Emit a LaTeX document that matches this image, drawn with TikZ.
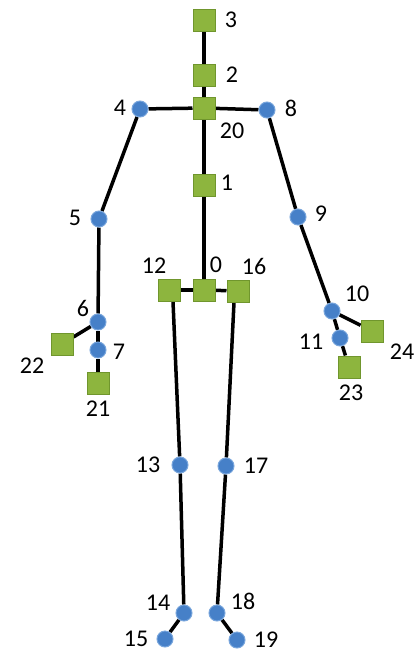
\documentclass[tikz,border=0pt]{standalone}
\usepackage{fontspec}
\setmainfont{Carlito}
\usetikzlibrary{backgrounds}
\definecolor{jgreen}{RGB}{141,181,62}
\definecolor{jgreenE}{RGB}{112,150,45}
\definecolor{jblue}{RGB}{70,128,200}
\definecolor{jblueE}{RGB}{120,165,220}
\begin{document}
\begin{tikzpicture}[x=1pt,y=-1pt,
  sq/.style={rectangle,draw=jgreenE,fill=jgreen,line width=1pt,minimum size=22pt,inner sep=0pt},
  jc/.style={circle,draw=jblueE,fill=jblue,line width=1pt,minimum size=16pt,inner sep=0pt},
  bone/.style={line width=3.5pt,black},
  lab/.style={font=\fontsize{24}{24}\selectfont,inner sep=0pt}]
\useasboundingbox (0,0) rectangle (414,653);
% joints
\node[sq] (j3) at (204,20) {};
\node[sq] (j2) at (204,75) {};
\node[sq] (j20) at (204,108) {};
\node[sq] (j1) at (204,185) {};
\node[sq] (j0) at (204,290) {};
\node[sq] (j12) at (169,290) {};
\node[sq] (j16) at (238,291) {};
\node[jc] (j4) at (140,109) {};
\node[jc] (j8) at (267,110) {};
\node[jc] (j5) at (99,219) {};
\node[jc] (j6) at (98,322) {};
\node[jc] (j7) at (98,350) {};
\node[sq] (j22) at (62,344) {};
\node[sq] (j21) at (98,383) {};
\node[jc] (j9) at (298,217) {};
\node[jc] (j10) at (332,311) {};
\node[jc] (j11) at (340,338) {};
\node[sq] (j24) at (372,331) {};
\node[sq] (j23) at (349,367) {};
\node[jc] (j13) at (180,465) {};
\node[jc] (j14) at (184,613) {};
\node[jc] (j15) at (165,639) {};
\node[jc] (j17) at (226,466) {};
\node[jc] (j18) at (217,613) {};
\node[jc] (j19) at (237,640) {};
\coordinate (c12) at ([xshift=4pt]j12.south);
\coordinate (c16) at ([xshift=-4pt]j16.south);
% bones
\begin{scope}[on background layer]
\draw[bone] (j3) -- (j2);
\draw[bone] (j2) -- (j20);
\draw[bone] (j20) -- (j4);
\draw[bone] (j20) -- (j8);
\draw[bone] (j20) -- (j1);
\draw[bone] (j1) -- (j0);
\draw[bone] (j4) -- (j5);
\draw[bone] (j5) -- (j6);
\draw[bone] (j6) -- (j7);
\draw[bone] (j6) -- (j22);
\draw[bone] (j7) -- (j21);
\draw[bone] (j8) -- (j9);
\draw[bone] (j9) -- (j10);
\draw[bone] (j10) -- (j11);
\draw[bone] (j10) -- (j24);
\draw[bone] (j11) -- (j23);
\draw[bone] (j0) -- (j12);
\draw[bone] (j0) -- (j16);
\draw[bone] (c12) -- (j13);
\draw[bone] (j13) -- (j14);
\draw[bone] (j14) -- (j15);
\draw[bone] (c16) -- (j17);
\draw[bone] (j17) -- (j18);
\draw[bone] (j18) -- (j19);
\end{scope}
% labels
\node[lab] (l3) at (231,20) {3};
\node[lab] (l2) at (232,75) {2};
\node[lab] (l20) at (232,131) {20};
\node[lab] (l1) at (227,183) {1};
\node[lab] (l4) at (120,108) {4};
\node[lab] (l8) at (291,108) {8};
\node[lab] (l5) at (75,218) {5};
\node[lab] (l9) at (321,214) {9};
\node[lab] (l6) at (83,308) {6};
\node[lab] (l7) at (119,352) {7};
\node[lab] (l22) at (32,366) {22};
\node[lab] (l21) at (98,409) {21};
\node[lab] (l12) at (154,266) {12};
\node[lab] (l0) at (216,265) {0};
\node[lab] (l16) at (254,266) {16};
\node[lab] (l10) at (357,294) {10};
\node[lab] (l11) at (311,342) {11};
\node[lab] (l24) at (402,352) {24};
\node[lab] (l23) at (351,393) {23};
\node[lab] (l13) at (148,465) {13};
\node[lab] (l17) at (256,466) {17};
\node[lab] (l14) at (158,603) {14};
\node[lab] (l18) at (243,601) {18};
\node[lab] (l15) at (136,639) {15};
\node[lab] (l19) at (266,640) {19};
\end{tikzpicture}
\end{document}
